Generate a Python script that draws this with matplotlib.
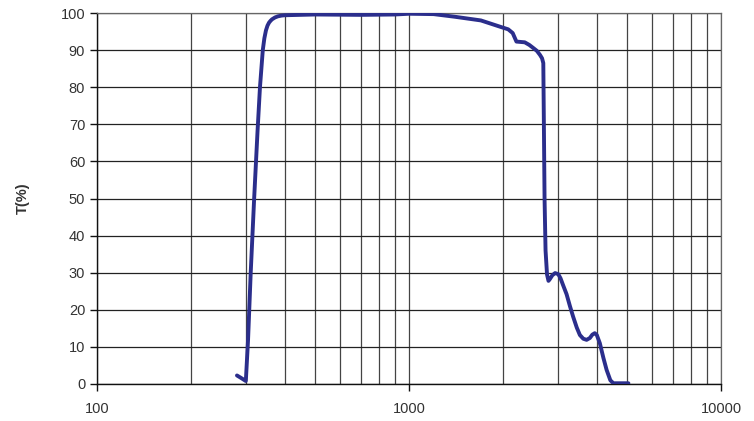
import matplotlib.pyplot as plt
from matplotlib.ticker import LogLocator, FixedLocator, NullFormatter

# wavelength (nm) and transmission (%)
wavelength = [281, 290, 300, 305, 311, 319, 327, 333, 340, 344, 348, 352, 356, 360, 364,
              372, 380, 390, 400, 500, 700, 900, 1000, 1200, 1400, 1700, 1960, 2080,
              2150, 2210, 2350, 2430, 2500, 2570, 2630, 2670, 2695, 2705, 2720, 2740,
              2770, 2800, 2830, 2880, 2940, 3010, 3060, 3120, 3200, 3280, 3360, 3450,
              3530, 3620, 3710, 3800, 3870, 3940, 4000, 4090, 4200, 4300, 4420, 4520,
              5050]
transmission = [2.3, 1.6, 0.8, 12, 30, 50, 68, 80, 90, 93.2, 95.3, 96.6, 97.4, 97.9, 98.3,
                98.8, 99.1, 99.3, 99.4, 99.6, 99.5, 99.6, 99.8, 99.7, 99.0, 98.0, 96.3,
                95.6, 94.6, 92.3, 92.1, 91.4, 90.6, 89.8, 88.7, 87.8, 86.5, 72, 50, 36,
                29.5, 27.8, 28.3, 29.3, 29.9, 29.6, 28.5, 26.6, 24.2, 21.0, 18.1, 15.2,
                13.2, 12.2, 11.9, 12.4, 13.3, 13.7, 13.2, 11.0, 7.0, 3.8, 1.0, 0.2,
                0.2]

y_ticks = list(range(0, 101, 10))
x_ticks = [100, 1000, 10000]

fig = plt.figure(figsize=(7.54, 4.21), dpi=100)
ax = fig.add_axes([0.1286, 0.0879, 0.8276, 0.8812])

ax.plot(wavelength, transmission, color='#2b2e8c', linewidth=2.8, solid_capstyle='round',
        solid_joinstyle='round', zorder=3)

ax.set_xscale('log')
ax.set_xlim(100, 10000)
ax.set_ylim(0, 100)

ax.xaxis.set_major_locator(FixedLocator(x_ticks))
ax.xaxis.set_major_formatter(plt.FuncFormatter(lambda v, p: f"{int(v)}"))
ax.xaxis.set_minor_locator(LogLocator(base=10, subs=range(2, 10)))
ax.xaxis.set_minor_formatter(NullFormatter())
ax.set_yticks(y_ticks)

ax.grid(True, which='major', axis='y', color='#222222', linewidth=0.9)
ax.grid(True, which='both', axis='x', color='#444444', linewidth=0.9)

for side in ['top', 'right']:
    ax.spines[side].set_color('#666666')
    ax.spines[side].set_linewidth(0.9)
for side in ['left', 'bottom']:
    ax.spines[side].set_color('#111111')
    ax.spines[side].set_linewidth(1.0)

ax.tick_params(axis='both', which='major', labelsize=10.5, labelcolor='#333333',
               length=5, width=1.0, color='#111111', direction='out')
ax.tick_params(axis='x', which='minor', length=0)
ax.tick_params(axis='x', which='major', pad=8)

for lab in ax.get_xticklabels() + ax.get_yticklabels():
    lab.set_fontfamily('Liberation Sans')

ax.set_ylabel("T(%)", fontsize=10.5, fontweight='bold', color='#333333',
              family='Liberation Sans', labelpad=22)

fig.savefig("out.png", dpi=100)
